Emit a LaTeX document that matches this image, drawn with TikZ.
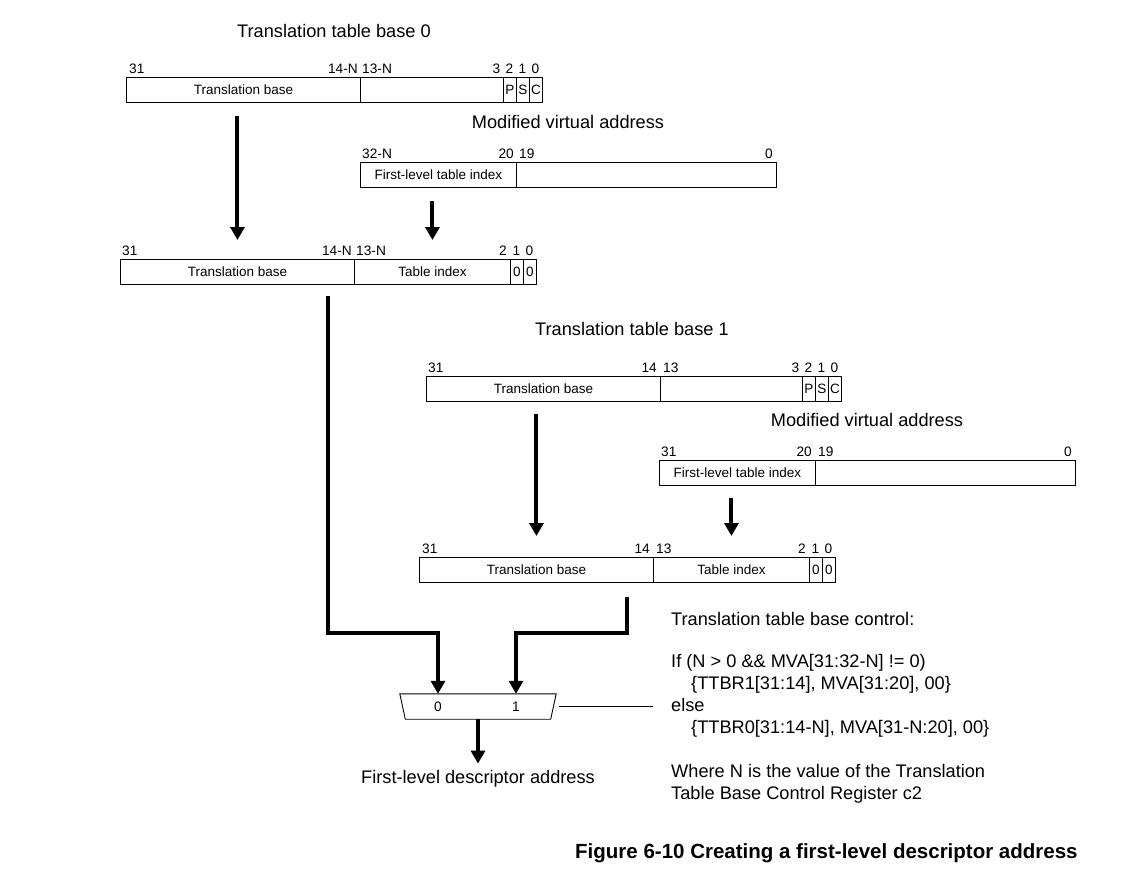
\documentclass[tikz,border=0pt]{standalone}
\usepackage{fontspec}
\setmainfont{Liberation Sans}
\usetikzlibrary{arrows.meta}
\begin{document}
\begin{tikzpicture}[x=1pt,y=-1pt,
  cell/.style={draw, line width=0.9pt, minimum height=25pt, inner sep=0pt,
    font=\fontsize{13.5}{16}\selectfont, anchor=north west},
  bit/.style={font=\fontsize{13.7}{16}\selectfont, inner sep=0pt, anchor=base},
  ttl/.style={font=\fontsize{18.2}{22}\selectfont, inner sep=0pt, anchor=base},
  txt/.style={font=\fontsize{18.2}{22}\selectfont, inner sep=0pt, anchor=base west},
  arr/.style={line width=4pt, -{Triangle[width=14pt,length=13pt]}},
  thinline/.style={line width=0.9pt}]
\useasboundingbox (0,0) rectangle (1131,884);
\fill[white] (0,0) rectangle (1131,884);

% ---------- Translation table base 0 ----------
\node[ttl] (ttl0) at (334,37) {Translation table base 0};
\node[cell, minimum width=234] (t0a) at (126,77) {Translation base};
\node[cell, minimum width=143] (t0b) at (360,77) {};
\node[cell, minimum width=13] (t0p) at (503,77) {P};
\node[cell, minimum width=13] (t0s) at (516,77) {S};
\node[cell, minimum width=13] (t0c) at (529,77) {C};
\node[bit, anchor=base west] (t0l31) at (129,73) {31};
\node[bit, anchor=base east] (t0l14) at (358,73) {14-N};
\node[bit, anchor=base west] (t0l13) at (362,73) {13-N};
\node[bit] (t0l3) at (496.5,73) {3};
\node[bit] (t0l2) at (509.5,73) {2};
\node[bit] (t0l1) at (522.5,73) {1};
\node[bit] (t0l0) at (535.5,73) {0};

% ---------- Modified virtual address 0 ----------
\node[ttl] (mttl0) at (568,128) {Modified virtual address};
\node[cell, minimum width=156] (m0a) at (360,162) {First-level table index};
\node[cell, minimum width=260] (m0b) at (516,162) {};
\node[bit, anchor=base west] (m0l32) at (362,158) {32-N};
\node[bit, anchor=base east] (m0l20) at (514,158) {20};
\node[bit, anchor=base west] (m0l19) at (519,158) {19};
\node[bit, anchor=base east] (m0l0) at (773,158) {0};

% ---------- Combined 0 ----------
\node[cell, minimum width=234] (c0a) at (120,259) {Translation base};
\node[cell, minimum width=156] (c0b) at (354,259) {Table index};
\node[cell, minimum width=13] (c0c) at (510,259) {0};
\node[cell, minimum width=13] (c0d) at (523,259) {0};
\node[bit, anchor=base west] (c0l31) at (122,255) {31};
\node[bit, anchor=base east] (c0l14) at (352,255) {14-N};
\node[bit, anchor=base west] (c0l13) at (356,255) {13-N};
\node[bit] (c0l2) at (503,255) {2};
\node[bit] (c0l1) at (516.5,255) {1};
\node[bit] (c0l0) at (529.5,255) {0};

\draw[arr, shorten <=13pt, shorten >=19pt] (c0a.north |- t0a.south) -- (c0a.north);
\draw[arr, shorten <=13pt, shorten >=19pt] (c0b.north |- m0a.south) -- (c0b.north);

% ---------- Translation table base 1 ----------
\node[ttl] (ttl1) at (632,335) {Translation table base 1};
\node[cell, minimum width=234] (t1a) at (426,376) {Translation base};
\node[cell, minimum width=142] (t1b) at (660,376) {};
\node[cell, minimum width=13] (t1p) at (802,376) {P};
\node[cell, minimum width=13] (t1s) at (815,376) {S};
\node[cell, minimum width=13] (t1c) at (828,376) {C};
\node[bit, anchor=base west] (t1l31) at (428,372) {31};
\node[bit, anchor=base east] (t1l14) at (657,372) {14};
\node[bit, anchor=base west] (t1l13) at (663,372) {13};
\node[bit] (t1l3) at (795.5,372) {3};
\node[bit] (t1l2) at (808.5,372) {2};
\node[bit] (t1l1) at (821.5,372) {1};
\node[bit] (t1l0) at (834.5,372) {0};

% ---------- Modified virtual address 1 ----------
\node[ttl] (mttl1) at (867,426) {Modified virtual address};
\node[cell, minimum width=156] (m1a) at (659,460) {First-level table index};
\node[cell, minimum width=260] (m1b) at (815,460) {};
\node[bit, anchor=base west] (m1l31) at (661,456) {31};
\node[bit, anchor=base east] (m1l20) at (812,456) {20};
\node[bit, anchor=base west] (m1l19) at (818,456) {19};
\node[bit, anchor=base east] (m1l0) at (1072,456) {0};

% ---------- Combined 1 ----------
\node[cell, minimum width=234] (c1a) at (419,557) {Translation base};
\node[cell, minimum width=156] (c1b) at (653,557) {Table index};
\node[cell, minimum width=13] (c1c) at (809,557) {0};
\node[cell, minimum width=13] (c1d) at (822,557) {0};
\node[bit, anchor=base west] (c1l31) at (422,553) {31};
\node[bit, anchor=base east] (c1l14) at (650,553) {14};
\node[bit, anchor=base west] (c1l13) at (656,553) {13};
\node[bit] (c1l2) at (802,553) {2};
\node[bit] (c1l1) at (815.5,553) {1};
\node[bit] (c1l0) at (828.5,553) {0};

\draw[arr, shorten <=12pt, shorten >=21pt] (c1a.north |- t1a.south) -- (c1a.north);
\draw[arr, shorten <=12pt, shorten >=21pt] (c1b.north |- m1a.south) -- (c1b.north);

% ---------- Multiplexer ----------
\node[minimum width=156pt, minimum height=25pt, inner sep=0pt] (mux) at (478,706.5) {};
\draw[thinline] (mux.north west) -- (mux.north east)
  -- ([xshift=-5.5pt]mux.south east) -- ([xshift=5.5pt]mux.south west) -- cycle;
\node[bit, anchor=center] (mux0) at (438,706.5) {0};
\node[bit, anchor=center] (mux1) at (516,706.5) {1};

\coordinate (p0) at (328,296);
\coordinate (k0) at (438,633);
\coordinate (p1) at (627,597);
\coordinate (k1) at (516,633);
\draw[arr] (p0) |- (k0) -- (mux0 |- mux.north);
\draw[arr] (p1) |- (k1) -- (mux1 |- mux.north);

\node[ttl] (fld) at (478,783) {First-level descriptor address};
\draw[arr, shorten >=6pt] (mux.south) -- (fld.north);

% ---------- Control text ----------
\node[txt] (ctl) at (671,625) {Translation table base control:};
\node[txt] (cif) at (671,667) {If (N > 0 \&\& MVA[31:32-N] != 0)};
\node[txt] (cone) at (691,689) {\{TTBR1[31:14], MVA[31:20], 00\}};
\node[txt] (celse) at (671,711) {else};
\node[txt] (czero) at (691,733) {\{TTBR0[31:14-N], MVA[31-N:20], 00\}};
\node[txt] (cw1) at (671,777) {Where N is the value of the Translation};
\node[txt] (cw2) at (671,799) {Table Base Control Register c2};
\draw[thinline, shorten <=3pt, shorten >=18pt] (mux.east) -- (mux.east -| celse.west);

% ---------- Caption ----------
\node[font=\bfseries\fontsize{20.5}{24}\selectfont, anchor=base west, inner sep=0pt]
  (cap) at (575,858) {Figure 6-10 Creating a first-level descriptor address};
\end{tikzpicture}
\end{document}
